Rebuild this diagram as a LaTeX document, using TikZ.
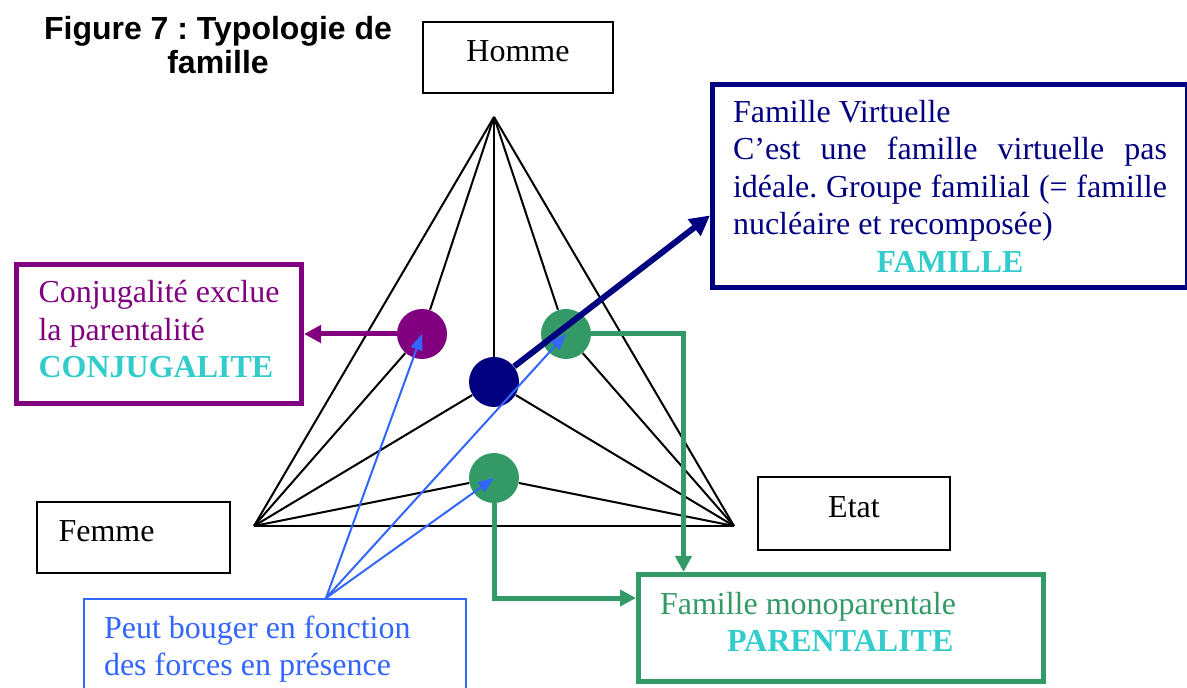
\documentclass[tikz,border=0pt]{standalone}
\usepackage{fontspec}
\setmainfont{Liberation Serif}
\newfontfamily\titlefont{Liberation Sans}
\usetikzlibrary{arrows.meta}
\frenchspacing

\definecolor{conjpurple}{RGB}{128,0,128}
\definecolor{virtnavy}{RGB}{0,0,128}
\definecolor{monogreen}{RGB}{51,153,102}
\definecolor{labelcyan}{RGB}{51,204,204}
\definecolor{mobileblue}{RGB}{51,102,255}

\begin{document}
\begin{tikzpicture}[x=0.5pt, y=-0.5pt, font=\fontsize{16}{18.75}\selectfont,
    dot/.style={circle, minimum size=25pt, inner sep=0pt},
    pole/.style={draw, line width=1pt, inner sep=0pt, text depth=6pt},
    frame/.style={draw, line width=2.5pt, inner ysep=0pt, align=flush left},
    edge/.style={line width=1pt},
    mobile/.style={mobileblue, line width=1pt, -{Triangle[length=8pt,width=6pt]}}]
  \useasboundingbox (0,0) rectangle (1187,688);

  \node[anchor=north, inner sep=0pt, align=center,
    font=\titlefont\bfseries\fontsize{16}{17}\selectfont] (title) at (218,16)
    {Figure 7 : Typologie de\\famille};

  % les trois poles
  \node[pole, minimum width=95pt, minimum height=35.5pt] (homme) at (518,57.5) {Homme};
  \node[pole, minimum width=96.5pt, minimum height=35.5pt, text width=75pt, align=flush left]
    (femme) at (133.5,537.5) {Femme};
  \node[pole, minimum width=96pt, minimum height=36.5pt] (etat) at (854,513.5) {Etat};

  \draw
    (494,117) coordinate (h)
    (254,526) coordinate (f)
    (734,526) coordinate (e);
  \draw
    (422,334) node[dot, fill=conjpurple] (conjdot){}
    (494,382) node[dot, fill=virtnavy] (virtdot){}
    (566,334) node[dot, fill=monogreen] (pardot){}
    (494,478) node[dot, fill=monogreen] (monodot){};

  \begin{scope}[edge]
    \draw (h) to (f);
    \draw (h) to (e);
    \draw (f) to (e);
    \draw (h) to (conjdot);
    \draw (conjdot) to (f);
    \draw (h) to (virtdot);
    \draw (virtdot) to (f);
    \draw (virtdot) to (e);
    \draw (h) to (pardot);
    \draw (pardot) to (e);
    \draw (monodot) to (f);
    \draw (monodot) to (e);
  \end{scope}

  % les cadres
  \node[frame, align=left, conjpurple, minimum width=142.5pt, minimum height=69.5pt,
    inner xsep=10pt, text depth=5pt] (conjbox) at (159,334)
    {Conjugalité exclue\\la parentalité\\{\bfseries\color{labelcyan}CONJUGALITE}};
  \node[frame, virtnavy, minimum width=237.5pt, minimum height=101.5pt, text width=217pt,
    inner xsep=10.25pt] (virtbox) at (950,186)
    {Famille Virtuelle\\
     \makebox[\linewidth][s]{C’est une famille virtuelle pas}\\
     \makebox[\linewidth][s]{idéale. Groupe familial (= famille}\\
     nucléaire et recomposée)\\
     \makebox[\linewidth][c]{\bfseries\color{labelcyan}FAMILLE}};
  \node[frame, monogreen, minimum width=202.5pt, minimum height=53.5pt, text width=181pt,
    inner xsep=10.75pt, text depth=24.75pt] (monobox) at (841,628)
    {Famille monoparentale\\
     \hspace*{33.5pt}{\bfseries\color{labelcyan}PARENTALITE}};
  \node[frame, mobileblue, line width=1pt, minimum width=191pt, minimum height=46.5pt,
    text width=171pt, inner xsep=10pt, text depth=18.75pt] (mobilebox) at (275,645.5)
    {Peut bouger en fonction\\des forces en présence};

  % les liens
  \draw[conjpurple, line width=2.5pt, -{Triangle[length=8.5pt,width=8.5pt]}] (conjdot) -- (conjbox);
  \draw[monogreen, line width=2.5pt, -{Triangle[length=8pt,width=8pt]}]
    (pardot) -| ([xshift=23.75pt]monobox.north west);
  \draw[monogreen, line width=2.5pt, -{Triangle[length=8pt,width=8pt]}]
    (monodot) |- ([yshift=15pt]monobox.west);
  \draw[virtnavy, line width=3pt, -{Triangle[length=10pt,width=10pt]}] (virtdot) -- (virtbox.187);

  \coordinate (mv) at ([xshift=121.5pt]mobilebox.north west);
  \draw[mobile] (mv) -- (conjdot.center);
  \draw[mobile] (mv) -- (pardot.center);
  \draw[mobile] (mv) -- (monodot.center);
\end{tikzpicture}
\end{document}
